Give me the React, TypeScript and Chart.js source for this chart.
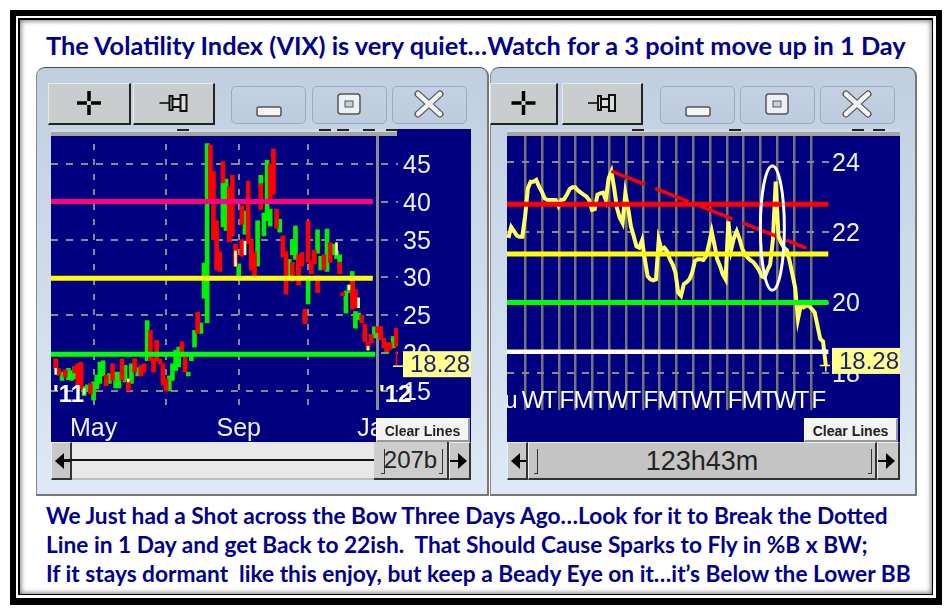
import React, { useEffect, useRef } from "react";
import { Chart, registerables } from "chart.js";

Chart.register(...registerables);

const SANS = '"Liberation Sans", Arial, sans-serif';
const TEXT = 'Lato, "Open Sans", sans-serif';
const NAVY = "#000080";
const AXIS_TEXT = "#eef0ff";

const titleText = "The Volatility Index (VIX) is very quiet…Watch for a 3 point move up in 1 Day";
const noteLines = [
  "We Just had a Shot across the Bow Three Days Ago…Look for it to Break the Dotted",
  "Line in 1 Day and get Back to 22ish.  That Should Cause Sparks to Fly in %B x BW;",
  "If it stays dormant  like this enjoy, but keep a Beady Eye on it…it’s Below the Lower BB",
];

const lastValue = 18.28;

// ---- left chart (daily candles): [bar index, low, high]
const upCandles = [
  [3,16.4,17.5],[5,16.5,18],[6,16.4,17.7],[7,16.6,18.2],[10,14.4,15.6],[11,15.1,15.8],[13,13.8,16.2],[14,15.3,17.1],
  [15,16,18.8],[16,17,19],[18,16,17.3],[20,15.4,17.5],[21,15.4,17.5],[23,16.2,18.4],[25,16,18.6],[27,17,18.1],
  [30,19,24.3],[37,15,17],[38,16.4,18.6],[39,17.7,20.4],[40,18.2,20.8],[43,17,17.5],[44,19,19.7],[45,20.8,23],
  [47,22.6,24],[48,27.25,31.9],[49,24,47.7],[50,41.5,43.5],[54,36.7,42.6],[55,36.2,43],[59,29.8,31.8],[61,35.7,38.8],
  [65,31.5,37.5],[66,42,43.5],[67,35.5,38.5],[68,37.5,45.5],[69,36.8,39],[72,36,37.7],[75,30.2,32.4],[76,33,35],
  [77,32.4,36.8],[78,30.5,32.4],[80,24.4,25.2],[81,26.5,29.8],[84,33.2,36.3],[85,31,32.8],[87,30.8,36.4],[89,33,34.4],
  [90,32.5,33.5],[91,32,33],[93,25.3,28.2],[94,28,29],[95,28.4,30.8],[96,23.3,25.5],[97,24.4,25.3],[102,22,23.5],
  [106,20,20.7],[108,20.7,22.2],
];
const downCandles = [
  [1,17.95,19.27],[2,17.07,17.95],[4,16.85,17.8],[7,17.4,18.2],[8,15.5,18.6],[9,15.3,18.8],[12,14.6,16],[17,15.7,17.1],
  [19,16.4,18.6],[22,16.4,19.27],[24,15,16.4],[26,17.5,19.3],[28,17,18.4],[29,17.5,18.6],[31,19,23],[32,17.5,19.3],
  [33,19,21.7],[34,18.6,19.2],[35,15.8,18.6],[36,15,16.6],[41,19.5,21.5],[42,17.5,19.5],[46,22.6,25.4],[50,40.4,47.5],
  [51,35,44],[52,31,37.5],[53,30.8,33.4],[54,42.5,45.3],[56,34.7,42],[57,35.5,43.5],[58,31.5,34.4],[60,37,39.5],
  [60,32.8,35],[62,34.5,42.7],[63,31,35],[64,30,33.4],[66,39,42.4],[69,40,45],[70,41,47],[71,36.5,39],
  [73,32.7,35.5],[74,27.8,33.4],[76,29.5,32],[78,29,33],[79,31.5,33.3],[80,23.9,25.8],[81,32,37.5],[82,30.5,32.2],
  [83,31.8,33.6],[84,28,30.2],[86,31,33],[88,32,34.6],[91,30.5,32],[92,27.6,28],[95,25.8,29.5],[96,26,28.4],
  [98,24,25],[99,21.5,23.8],[100,20.5,21.4],[101,21.4,22.5],[103,22.7,23.5],[104,21.8,23.5],[105,20.7,22],[106,20.2,21.4],
  [107,20.5,21.4],[109,20.9,23.3],
];
const creamCandles = [[1,17.2,18],[10,14.6,15.3],[24,16.2,16.6],[58,31.5,33.5],[61,33,34.8],[90,33,34.6],[94,28.4,29],[97,26,27.3],[100,20.4,20.9]];
const lastTail = [[109,18.4,20.2]];

const leftTicksY = [15, 20, 25, 30, 35, 40, 45];
const monthTickAt = [13, 36, 59, 81, 103];
const monthTickName = ["May", "", "Sep", "", "Jan"];
const pinkLevel = 40.05;
const yellowLevel = 29.9;
const greenLevel = 19.85;
const leftLevelEnd = [101.5, 101.5, 102.3];

// ---- right chart (intraday close)
const closeSeries = [
  21.84,22.15,22.03,21.91,21.87,21.87,22.45,23.25,23.44,23.44,23.49,23.30,23.16,22.97,22.92,22.92,22.92,22.92,22.75,22.92,
  22.94,23.07,23.23,23.28,23.28,23.19,23.13,23.07,23.02,22.92,22.64,22.66,23.07,23.11,23.13,22.92,23.54,23.73,23.25,22.69,
  22.41,22.26,23.11,22.69,22.17,21.89,21.6,21.56,21.77,21.23,20.75,20.66,20.63,20.66,21.79,21.51,21.56,21.46,21.23,21.08,
  20.85,20.28,20.19,20.52,20.58,20.66,20.85,21.18,21.23,21.23,21.21,21.32,21.65,22.03,21.65,21.23,21.04,20.8,20.66,22.31,
  21.51,21.84,22.03,21.81,21.53,21.37,21.27,21.2,21.15,21.04,20.92,20.75,20.71,20.92,21.08,21.79,23.44,21.89,21.7,21.56,
  21.49,21.18,20.8,20.42,19.53,19.91,19.86,19.91,19.91,19.81,19.72,19.34,18.96,18.89,18.21,
];
const rightTicksY = [18, 20, 22, 24];
const dayTickAt = [-2,6,12,18.1,24.1,30.2,36.2,42.2,48.3,54.3,60.4,66.4,72.4,78.5,84.5,90.5,96.6,102.6,108.6];
const dayTickName = ["u","W","T","F","M","T","W","T","F","M","T","W","T","F","M","T","W","T","F"];
const redLevel = 22.8;
const yellowLevel2 = 21.38;
const greenLevel2 = 20.0;
const whiteLevel = 18.6;
const rightLevelEnd = 114.9;
const dottedIndex = [37, 107];
const dottedValue = [23.74, 21.55];
const ringCentre = { index: 94.8, value: 22.12, indexRadius: 4.3, valueRadius: 1.77 };

const tagPlugin = (boxGap: number, leader: boolean) => ({
  id: "valueTag",
  afterDraw(chart: any) {
    const { ctx, chartArea, scales } = chart;
    const y = scales.y.getPixelForValue(lastValue) - 2;
    const left = chartArea.right + boxGap;
    ctx.save();
    if (leader) {
      ctx.strokeStyle = "#ffff99";
      ctx.lineWidth = 1.5;
      ctx.beginPath();
      ctx.moveTo(chartArea.right - 5, y + 2);
      ctx.lineTo(left, y + 2);
      ctx.stroke();
    }
    ctx.fillStyle = "#ffff8c";
    ctx.fillRect(left, y - 13, chart.width - left, 26);
    ctx.fillStyle = "#1b1b80";
    ctx.font = `24px ${SANS}`;
    ctx.textAlign = "right";
    ctx.textBaseline = "middle";
    ctx.fillText(String(lastValue), chart.width - 1, y + 1);
    ctx.restore();
  },
});

const ringPlugin = {
  id: "ring",
  afterDatasetsDraw(chart: any) {
    const { ctx, scales } = chart;
    const cx = scales.x.getPixelForValue(ringCentre.index);
    const cy = scales.y.getPixelForValue(ringCentre.value);
    const rx = Math.abs(scales.x.getPixelForValue(ringCentre.index + ringCentre.indexRadius) - cx);
    const ry = Math.abs(scales.y.getPixelForValue(ringCentre.value + ringCentre.valueRadius) - cy);
    ctx.save();
    ctx.strokeStyle = "#ffffff";
    ctx.lineWidth = 3;
    ctx.beginPath();
    ctx.ellipse(cx, cy, rx, ry, 0, 0, Math.PI * 2);
    ctx.stroke();
    ctx.restore();
  },
};

const toBars = (rows: number[][]) => rows.map(([x, lo, hi]) => ({ x, y: [lo, hi] }));
const level = (y: number, end: number, start: number) => [{ x: start, y }, { x: end, y }];

const makeLeft = (canvas: HTMLCanvasElement) =>
  new Chart(canvas, {
    type: "bar",
    data: {
      datasets: [
        { type: "line", data: level(pinkLevel, leftLevelEnd[0], -0.5), borderColor: "#ff0080", borderWidth: 5, pointRadius: 0, order: 0 },
        { type: "line", data: level(yellowLevel, leftLevelEnd[1], -0.5), borderColor: "#ffff00", borderWidth: 5, pointRadius: 0, order: 0 },
        { type: "line", data: level(greenLevel, leftLevelEnd[2], -0.5), borderColor: "#00ff00", borderWidth: 5, pointRadius: 0, order: 0 },
        { data: toBars(creamCandles), backgroundColor: "#ffffb0", barThickness: 2, grouped: false, order: 1 },
        { data: toBars(downCandles), backgroundColor: "#ff0000", barThickness: 4, grouped: false, order: 2 },
        { data: toBars(upCandles), backgroundColor: "#00f000", barThickness: 4, grouped: false, order: 3 },
        { data: toBars(lastTail), backgroundColor: "#ff0000", barThickness: 1, grouped: false, order: 1 },
      ] as any,
    },
    plugins: [tagPlugin(5, true)],
    options: {
      animation: false,
      responsive: false,
      layout: { padding: 0, autoPadding: false },
      plugins: { legend: { display: false }, tooltip: { enabled: false } },
      scales: {
        x: {
          type: "linear",
          min: -0.5,
          max: 109.5,
          offset: false,
          afterBuildTicks: (s: any) => { s.ticks = monthTickAt.map((value) => ({ value })); },
          afterFit: (s: any) => { s.height = 32; s.paddingLeft = 0; s.paddingRight = 0; },
          grid: {
            offset: false,
            drawTicks: false,
            color: (c: any) => (c.tick?.value === 103 ? "#8c8c8c" : "#8a8a8a"),
            lineWidth: (c: any) => (c.tick?.value === 103 ? 3 : 2),
          },
          border: { display: false, dash: (c: any) => (c.tick?.value === 103 ? [] : [6, 9]) },
          ticks: {
            autoSkip: false,
            maxRotation: 0,
            padding: 4,
            color: AXIS_TEXT,
            font: { family: SANS, size: 25 },
            callback: (v: any) => monthTickName[monthTickAt.indexOf(v)] ?? "",
          },
        },
        y: {
          position: "right",
          min: 12.49,
          max: 49.62,
          afterBuildTicks: (s: any) => { s.ticks = leftTicksY.map((value) => ({ value })); },
          afterFit: (s: any) => { s.width = 73; s.paddingTop = 0; s.paddingBottom = 0; },
          grid: { drawTicks: false, color: "#8a8a8a", lineWidth: 2 },
          border: { display: false, dash: [7, 8] },
          ticks: { padding: 5, labelOffset: 2, color: AXIS_TEXT, font: { family: SANS, size: 25 } },
        },
      },
    } as any,
  });

const makeRight = (canvas: HTMLCanvasElement) =>
  new Chart(canvas, {
    type: "line",
    data: {
      datasets: [
        { data: level(redLevel, rightLevelEnd, -0.5), borderColor: "#ff0000", borderWidth: 5, pointRadius: 0, order: 0 },
        { data: level(yellowLevel2, rightLevelEnd, -0.5), borderColor: "#ffff00", borderWidth: 5, pointRadius: 0, order: 0 },
        { data: level(greenLevel2, rightLevelEnd, -0.5), borderColor: "#00ff00", borderWidth: 5, pointRadius: 0, order: 0 },
        { data: level(whiteLevel, rightLevelEnd, -0.5), borderColor: "#ffffff", borderWidth: 4.5, pointRadius: 0, order: 0 },
        {
          data: dottedIndex.map((x, i) => ({ x, y: dottedValue[i] })),
          borderColor: "#ff0000",
          borderWidth: 3.5,
          borderDash: [36, 11],
          pointRadius: 0,
          order: 1,
        },
        {
          data: closeSeries.map((y, x) => ({ x, y })),
          borderColor: "#ffff66",
          borderWidth: 4,
          borderJoinStyle: "miter",
          tension: 0,
          pointRadius: (c: any) => (c.dataIndex === closeSeries.length - 1 ? 6 : 0),
          pointStyle: "cross",
          pointBorderColor: "#ffff66",
          pointBorderWidth: 1.5,
          order: 2,
        },
      ],
    },
    plugins: [ringPlugin, tagPlugin(2, false)],
    options: {
      animation: false,
      responsive: false,
      layout: { padding: 0, autoPadding: false },
      plugins: { legend: { display: false }, tooltip: { enabled: false } },
      scales: {
        x: {
          type: "linear",
          min: -0.5,
          max: 115.5,
          afterBuildTicks: (s: any) => { s.ticks = dayTickAt.map((value) => ({ value })); },
          afterFit: (s: any) => { s.height = 32; s.paddingLeft = 0; s.paddingRight = 0; },
          grid: {
            drawTicks: false,
            color: (c: any) => (c.tick?.value === -2 ? "transparent" : "#747474"),
            lineWidth: 2.5,
          },
          border: { display: false },
          ticks: {
            autoSkip: false,
            maxRotation: 0,
            mirror: true,
            padding: -6,
            labelOffset: 8,
            color: "#ffffff",
            font: { family: SANS, size: 24 },
            callback: (v: any) => dayTickName[dayTickAt.indexOf(v)] ?? "",
          },
        },
        y: {
          position: "right",
          min: 16.94,
          max: 24.94,
          afterBuildTicks: (s: any) => { s.ticks = rightTicksY.map((value) => ({ value })); },
          afterFit: (s: any) => { s.width = 70; s.paddingTop = 0; s.paddingBottom = 0; },
          grid: { drawTicks: false, color: "#8a8a8a", lineWidth: 2 },
          border: { display: false, dash: [7, 8] },
          ticks: { padding: 2, labelOffset: 2, color: AXIS_TEXT, font: { family: SANS, size: 25 } },
        },
      },
    } as any,
  });

const abs = (left: number, top: number, width: number, height: number, extra: React.CSSProperties = {}): React.CSSProperties => ({
  position: "absolute", left, top, width, height, boxSizing: "border-box", ...extra,
});

const Frame = ({ l, t, r, b, c, shadow }: { l: number; t: number; r: number; b: number; c: string; shadow?: boolean }) => (
  <div style={abs(l, t, r - l, b - t, { background: c, boxShadow: shadow ? "inset 0 0 5px 1px #777" : undefined })} />
);

const TopButton = ({ x, w, icon }: { x: number; w: number; icon: "cross" | "pin" }) => (
  <div style={abs(x, 83, w, 42, { background: "#c9cdcd", borderRight: "2px solid #222", borderBottom: "2px solid #222", borderTop: "1px solid #e8eaea", borderLeft: "1px solid #e8eaea" })}>
    <svg width={w - 3} height={39} style={{ display: "block" }}>
      {icon === "cross" ? (
        <g transform={`translate(${(w - 3) / 2},19)`} stroke="#000" strokeWidth={3.5}>
          <line x1={-12} y1={0} x2={-2} y2={0} /><line x1={2} y1={0} x2={12} y2={0} />
          <line x1={0} y1={-12} x2={0} y2={-2} /><line x1={0} y1={2} x2={0} y2={12} />
        </g>
      ) : (
        <g transform={`translate(${(w - 3) / 2},19)`}>
          <line x1={-14} y1={0} x2={-4} y2={0} stroke="#333" strokeWidth={2} />
          <path d="M-4,-7 L-1,-7 L-1,7 L-4,7 Z M-1,-4 L7,-4 L7,4 L-1,4 Z M7,-8 L13,-8 L13,8 L7,8 Z" fill="#ddd" stroke="#111" strokeWidth={2} />
        </g>
      )}
    </svg>
  </div>
);

const WinButton = ({ x, kind }: { x: number; kind: "min" | "max" | "close" }) => (
  <div style={abs(x, 86, 75, 38, { borderRadius: 5, border: "1.5px solid #97abc4", background: "linear-gradient(#c3d1e2,#bccbde)" })}>
    <svg width={72} height={35} style={{ display: "block" }}>
      {kind === "min" && <rect x={25} y={20} width={24} height={9} rx={2} fill="#f4f6f8" stroke="#555" strokeWidth={1.5} />}
      {kind === "max" && (
        <g><rect x={25} y={7} width={22} height={20} rx={3} fill="#eef1f4" stroke="#555" strokeWidth={1.5} /><rect x={32} y={14} width={8} height={6} fill="#c3d1e2" stroke="#555" /></g>
      )}
      {kind === "close" && (
        <g strokeLinecap="round">
          <path d="M25,7 L47,27 M47,7 L25,27" stroke="#555" strokeWidth={7} />
          <path d="M25,7 L47,27 M47,7 L25,27" stroke="#f2f4f6" strokeWidth={4.5} />
        </g>
      )}
    </svg>
  </div>
);

const Strip = ({ x, w, marks }: { x: number; w: number; marks: number[] }) => (
  <div style={abs(x, 129, w, 7, { background: "linear-gradient(#cfdbe8 0,#cfdbe8 3px,#a6a6a0 3px,#a6a6a0 100%)" })}>
    {marks.map((m) => <div key={m} style={abs(m, 0, 12, 2, { background: "#222" })} />)}
  </div>
);

const ArrowBtn = ({ x, w, dir }: { x: number; w: number; dir: "l" | "r" }) => (
  <div style={abs(x, 442, w, 38, { background: "#c8c8c8", borderRight: "2px solid #333", borderBottom: "2px solid #333", borderTop: "1px solid #eee", borderLeft: "1px solid #eee" })}>
    <svg width={w - 3} height={35} style={{ display: "block" }}>
      {dir === "l"
        ? <path d="M3,18 L12,10 L12,26 Z M12,17 L20,17 L20,19 L12,19 Z" fill="#000" />
        : <path d="M17,18 L8,10 L8,26 Z M8,17 L0,17 L0,19 L8,19 Z" fill="#000" />}
    </svg>
  </div>
);

const Grip = ({ x }: { x: number }) => (
  <div style={abs(x, 449, 4, 25, { borderRight: "1.5px solid #333", borderBottom: "1.5px solid #333" })} />
);

const ClearBtn = ({ x }: { x: number }) => (
  <div style={abs(x, 418, 94, 24, { background: "#f4f4f4", borderTop: "1px solid #fff", borderLeft: "1px solid #fff", borderRight: "2px solid #999", borderBottom: "2px solid #999", font: `bold 14px ${SANS}`, color: "#222", textAlign: "center", lineHeight: "24px", whiteSpace: "nowrap" })}>Clear Lines</div>
);

export default function App() {
  const leftRef = useRef<HTMLCanvasElement>(null);
  const rightRef = useRef<HTMLCanvasElement>(null);
  useEffect(() => {
    const a = makeLeft(leftRef.current!);
    const b = makeRight(rightRef.current!);
    return () => { a.destroy(); b.destroy(); };
  }, []);

  const panelStyle = (x: number, w: number): React.CSSProperties =>
    abs(x, 67, w, 429, {
      background: "linear-gradient(#c0cfe0,#dde9f4)",
      borderTop: "1.5px solid #4a4a4a",
      borderLeft: "1.5px solid #888",
      borderRight: "2px solid #777",
      borderBottom: "2.5px solid #777",
      borderTopLeftRadius: 9,
      borderTopRightRadius: 9,
    });

  const textStyle: React.CSSProperties = { position: "absolute", font: `700 23px ${TEXT}`, color: "#00008e", whiteSpace: "nowrap" };

  return (
    <div style={abs(0, 0, 952, 614, { background: "#fff", overflow: "hidden" })}>
      <Frame l={10} t={10} r={942} b={605} c="#000" />
      <Frame l={16} t={16} r={936} b={597.5} c="#fff" />
      <Frame l={18.3} t={18.3} r={933.5} b={595.5} c="#000" />
      <Frame l={20} t={20} r={932} b={594} c="#fff" shadow />

      <div style={{ ...textStyle, left: 46, top: 30, fontSize: 25.35 }}>{titleText}</div>
      {noteLines.map((n, i) => (
        <div key={i} style={{ ...textStyle, left: 46, top: 502 + i * 29, fontSize: 22.7, whiteSpace: "pre" }}>{n}</div>
      ))}

      <div style={panelStyle(36, 453)} />
      <div style={panelStyle(490, 427)} />

      <TopButton x={48} w={83} icon="cross" />
      <TopButton x={133} w={82} icon="pin" />
      <WinButton x={231} kind="min" />
      <WinButton x={312} kind="max" />
      <WinButton x={392} kind="close" />
      <TopButton x={490} w={68} icon="cross" />
      <TopButton x={562} w={81} icon="pin" />
      <WinButton x={660} kind="min" />
      <WinButton x={740} kind="max" />
      <WinButton x={820} kind="close" />

      <canvas ref={leftRef} width={420} height={313} style={abs(51, 129, 420, 313, { background: NAVY, display: "block" })} />
      <canvas ref={rightRef} width={393} height={313} style={abs(507, 129, 393, 313, { background: NAVY, display: "block" })} />

      <Strip x={51} w={346} marks={[126, 268, 286, 312, 335]} />
      <Strip x={507} w={393} marks={[125, 222, 345, 366]} />

      <div style={abs(53, 380, 40, 28, { font: `bold 24px ${SANS}`, color: "#fff", whiteSpace: "nowrap" })}>{"'11"}</div>
      <div style={abs(379, 380, 40, 28, { font: `bold 24px ${SANS}`, color: "#fff", whiteSpace: "nowrap" })}>{"'12"}</div>

      <ClearBtn x={376} />
      <ClearBtn x={804} />

      <ArrowBtn x={51} w={21} dir="l" />
      <div style={abs(72, 442, 302, 38, { background: "#e8e8e8", borderBottom: "2px solid #bbb" })}>
        <div style={abs(-10, 17, 320, 2, { background: "#111" })} />
      </div>
      <div style={abs(374, 442, 75, 38, { background: "#cdcdcd", borderRight: "2px solid #333", borderBottom: "2px solid #333", font: `24px ${SANS}`, color: "#222", textAlign: "center", lineHeight: "36px" })}>
        {"207b"}
      </div>
      <Grip x={381} />
      <Grip x={439} />
      <ArrowBtn x={449} w={22} dir="r" />

      <ArrowBtn x={507} w={21} dir="l" />
      <div style={abs(528, 442, 349, 38, { background: "#c4c4c4", borderRight: "2px solid #333", borderBottom: "2px solid #333", borderTop: "1px solid #eee", borderLeft: "1px solid #eee", font: `27px ${SANS}`, color: "#222", textAlign: "center", lineHeight: "36px" })}>
        {"123h43m"}
      </div>
      <Grip x={534} />
      <Grip x={868} />
      <ArrowBtn x={877} w={23} dir="r" />
    </div>
  );
}
